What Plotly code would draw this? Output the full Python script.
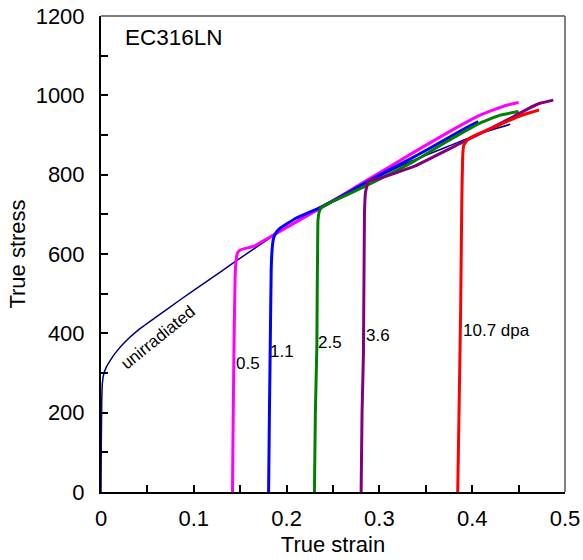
import plotly.graph_objects as go

# True stress-strain curves for EC316LN, unirradiated and after irradiation
# (x: true strain, y: true stress in MPa)
unirr_strain = [0.0, 0.0003, 0.0008, 0.0015, 0.003, 0.006, 0.010, 0.016, 0.024, 0.040, 0.060,
                0.085, 0.114, 0.146, 0.185, 0.230, 0.280, 0.330, 0.380, 0.4085, 0.441]
unirr_stress = [0, 120, 230, 275, 298, 316, 332, 352, 374, 408, 442,
                484, 531, 583, 645, 710, 773, 830, 877, 904, 927]

dpa05_strain = [0.1417, 0.1425, 0.1435, 0.1445, 0.1455, 0.147, 0.150, 0.165, 0.186, 0.236,
                0.286, 0.336, 0.375, 0.4085, 0.425, 0.437, 0.450]
dpa05_stress = [0, 200, 400, 540, 582, 602, 610, 620, 648, 715,
                785, 855, 908, 950, 965, 975, 982]

dpa11_strain = [0.1806, 0.1815, 0.1823, 0.1834, 0.1845, 0.186, 0.189, 0.193, 0.210, 0.236,
                0.265, 0.300, 0.3366, 0.370, 0.395, 0.4066]
dpa11_stress = [0, 200, 350, 560, 615, 640, 655, 665, 690, 717,
                753, 799, 844, 887, 920, 934]

dpa25_strain = [0.2300, 0.2310, 0.2326, 0.2337, 0.235, 0.237, 0.245, 0.265, 0.2864, 0.3366,
                0.370, 0.4085, 0.430, 0.450]
dpa25_stress = [0, 200, 366, 680, 705, 716, 727, 749, 773, 833,
                880, 930, 950, 959]

dpa36_strain = [0.2803, 0.2813, 0.2828, 0.2839, 0.2850, 0.2882, 0.297, 0.3008, 0.3366, 0.3905,
                0.420, 0.4443, 0.460, 0.473, 0.4874]
dpa36_stress = [0, 200, 349, 700, 755, 785, 789, 791, 820, 883,
                917, 946, 966, 980, 988]

dpa107_strain = [0.3844, 0.3858, 0.3875, 0.3888, 0.3898, 0.391, 0.395, 0.4013, 0.420, 0.4372,
                 0.455, 0.472]
dpa107_stress = [0, 200, 450, 736, 850, 875, 888, 897, 916, 934,
                 951, 963]

# (name, strain, stress, colour, width, axes); the last curve sits on the
# overlay axes that carry the inside tick marks
series = [
    ("unirradiated", unirr_strain, unirr_stress, "#000080", 1.5, ("x", "y")),
    ("0.5", dpa05_strain, dpa05_stress, "#ff00ff", 3, ("x", "y")),
    ("1.1", dpa11_strain, dpa11_stress, "#0000ff", 3, ("x", "y")),
    ("2.5", dpa25_strain, dpa25_stress, "#008000", 3, ("x", "y")),
    ("3.6", dpa36_strain, dpa36_stress, "#800080", 3, ("x", "y")),
    ("10.7 dpa", dpa107_strain, dpa107_stress, "#ff0000", 3, ("x2", "y2")),
]

# Curve labels: (text, x, y, angle)
curve_labels = [
    ("unirradiated", 0.0615, 390, -39),
    ("0.5", 0.1579, 325, 0),
    ("1.1", 0.1949, 353, 0),
    ("2.5", 0.2469, 378, 0),
    ("3.6", 0.2990, 395, 0),
    ("10.7 dpa", 0.4265, 408, 0),
]

# Labelled ticks and the full set of tick marks
x_labelvals = [0, 0.1, 0.2, 0.3, 0.4, 0.5]
x_labeltext = ["0", "0.1", "0.2", "0.3", "0.4", "0.5"]
y_labelvals = [0, 200, 400, 600, 800, 1000, 1200]
x_tickmarks = [0, 0.05, 0.1, 0.15, 0.2, 0.25, 0.3, 0.35, 0.4, 0.45, 0.5]
y_tickmarks = [0, 100, 200, 300, 400, 500, 600, 700, 800, 900, 1000, 1100, 1200]
X_RANGE = [0, 0.5]
Y_RANGE = [0, 1200]

FONT = "Liberation Sans, Arial, sans-serif"

fig = go.Figure()
for name, xs, ys, color, width, (xa, ya) in series:
    fig.add_trace(go.Scatter(x=xs, y=ys, mode="lines", name=name, xaxis=xa, yaxis=ya,
                             line=dict(color=color, width=width, shape="spline", smoothing=0.3),
                             showlegend=False))

for text, x, y, ang in curve_labels:
    fig.add_annotation(x=x, y=y, text=text, showarrow=False, textangle=ang,
                       font=dict(family=FONT, size=17, color="black"))

fig.add_annotation(x=0.024, y=1147, text="EC316LN", showarrow=False, xanchor="left",
                   font=dict(family=FONT, size=22.5, color="black"))

# gray frame on top and right
fig.add_shape(type="line", xref="paper", yref="paper", x0=0, x1=1, y0=1, y1=1,
              line=dict(color="#555555", width=1.5))
fig.add_shape(type="line", xref="paper", yref="paper", x0=1, x1=1, y0=0, y1=1,
              line=dict(color="#555555", width=1.5))

label_axis = dict(showgrid=False, zeroline=False, showline=True, linecolor="black",
                  linewidth=2, ticks="", automargin=False,
                  tickfont=dict(family=FONT, size=22, color="black"),
                  title_font=dict(family=FONT, size=22, color="black"))
mark_axis = dict(showgrid=False, zeroline=False, showline=False, showticklabels=False,
                 ticks="inside", ticklen=7, tickwidth=1.5, tickcolor="black",
                 automargin=False)

fig.update_layout(
    xaxis=dict(range=X_RANGE, tickvals=x_labelvals, ticktext=x_labeltext,
               title_text="True strain", title_standoff=6, ticklabelstandoff=6,
               **label_axis),
    yaxis=dict(range=Y_RANGE, tickvals=y_labelvals,
               title_text="True stress", title_standoff=4, ticklabelstandoff=10,
               **label_axis),
    xaxis2=dict(range=X_RANGE, tickvals=x_tickmarks, overlaying="x", anchor="y2",
                side="bottom", **mark_axis),
    yaxis2=dict(range=Y_RANGE, tickvals=y_tickmarks, overlaying="y", anchor="x2",
                side="left", **mark_axis),
    width=583, height=560, margin=dict(l=101, r=18, t=16, b=68),
    paper_bgcolor="white", plot_bgcolor="white",
    font=dict(family=FONT, color="black"),
)

fig.write_html("out.html")
